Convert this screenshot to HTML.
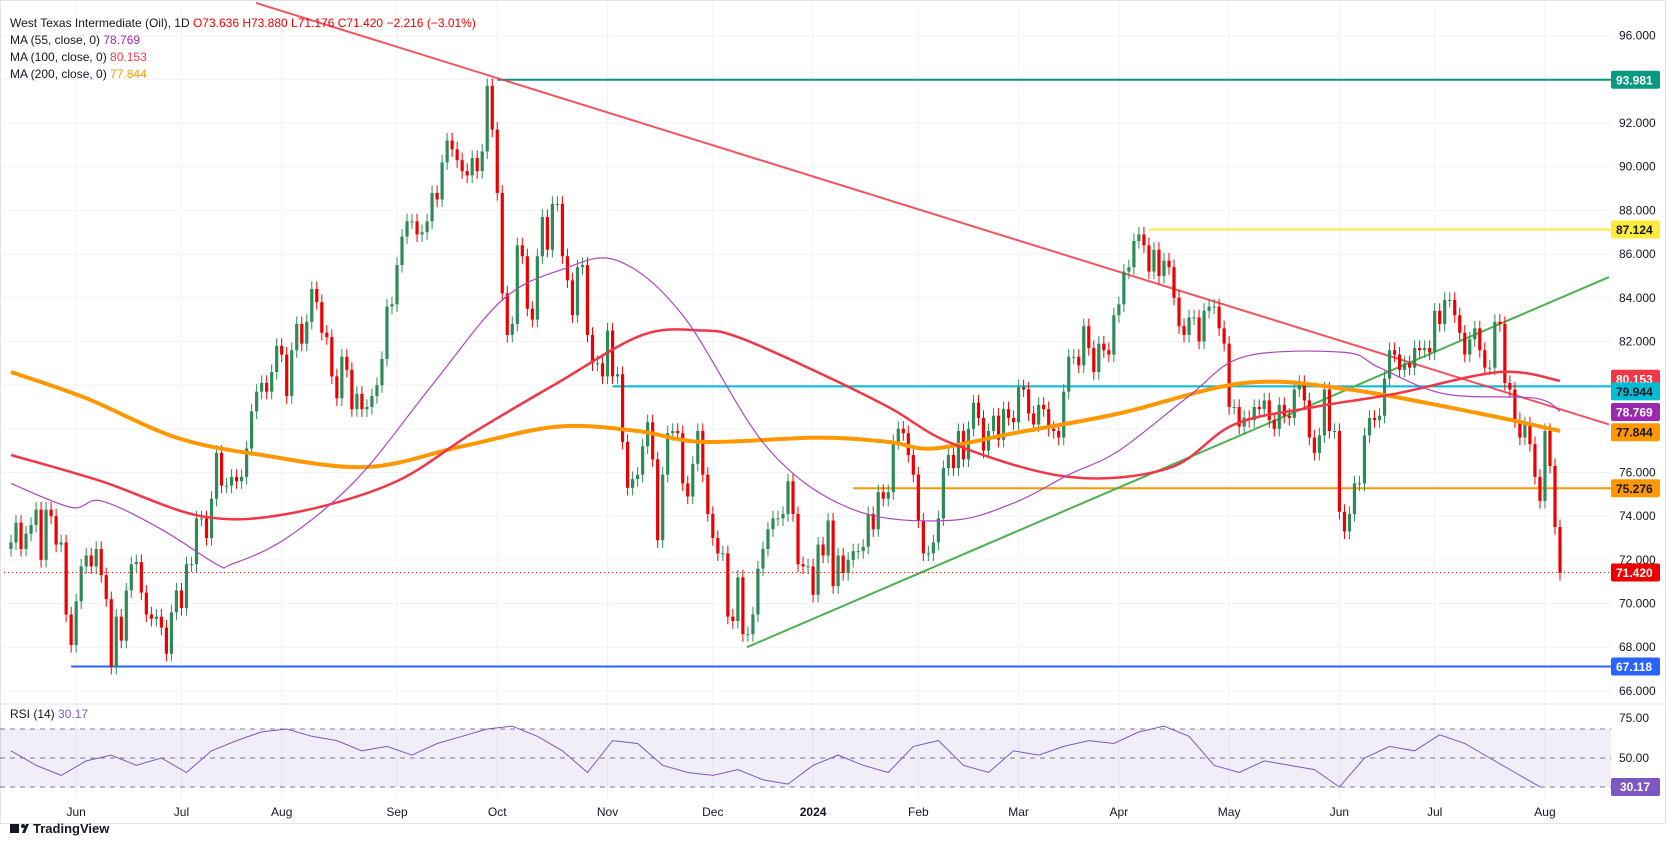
<!DOCTYPE html>
<html><head><meta charset="utf-8"><style>
html,body{margin:0;padding:0;background:#fff;}
svg{display:block;font-family:"Liberation Sans",sans-serif;}
</style></head><body>
<svg id="c" width="1675" height="848" viewBox="0 0 1675 848"></svg>
<script>
const closes=[72.8,73.7,72.5,73.2,73.6,74.3,72.0,74.3,74.0,72.7,72.8,69.5,68.1,
70.1,71.7,72.2,71.7,72.5,71.3,70.2,67.1,69.4,68.3,70.6,71.8,71.9,70.5,69.5,69.3,69.4,68.9,67.7,69.6,70.6,
69.8,71.8,71.8,73.9,73.9,73.0,74.8,76.9,75.4,75.4,75.8,75.6,75.8,77.1,78.8,79.7,80.1,79.7,80.6,81.8,
81.4,79.5,81.6,82.8,81.9,82.9,84.4,83.8,82.4,82.2,80.4,79.4,81.3,80.7,78.9,79.6,78.9,79.0,79.5,80.0,81.2,83.6,83.7,
85.5,86.8,87.5,87.5,86.9,87.0,87.5,88.8,88.5,90.2,91.2,90.8,90.3,89.8,89.6,90.4,89.8,90.7,93.7,91.7,
88.8,84.2,82.3,82.8,86.4,85.9,83.5,83.0,85.9,87.7,86.2,88.3,88.3,85.9,84.8,83.2,85.4,85.5,82.3,81.0,81.0,80.4,
82.5,80.4,80.5,77.4,75.3,75.7,75.9,77.2,78.3,76.6,72.9,75.9,77.8,77.9,77.8,75.5,74.9,76.4,77.9,75.9,74.1,
73.0,72.3,72.3,69.4,69.2,71.2,68.6,68.6,69.5,71.6,72.5,73.4,73.9,73.9,74.1,75.6,74.1,71.8,71.7,71.7,
70.4,72.7,72.2,73.8,70.8,72.2,71.4,72.0,72.4,72.4,72.6,74.1,73.4,75.1,74.8,75.1,77.4,78.0,77.8,76.8,75.9,
73.8,72.3,72.3,72.8,73.9,76.2,76.8,76.2,77.9,76.6,78.0,79.2,78.5,77.0,77.9,78.6,77.5,78.9,78.5,78.3,
79.9,79.8,78.7,78.2,79.1,78.9,78.0,77.9,77.6,79.7,81.3,81.3,80.9,82.7,81.7,80.6,81.9,81.6,81.4,83.2,
83.7,85.2,85.4,86.6,86.9,86.4,85.2,86.2,85.0,85.7,85.4,84.0,82.7,82.3,83.1,83.1,82.0,83.4,83.6,83.6,82.6,81.9,
79.0,79.0,78.1,78.5,78.4,79.0,78.9,79.3,78.4,78.0,79.1,78.6,78.5,79.8,80.1,79.3,77.6,76.9,77.7,79.8,77.9,77.9,
74.2,73.3,74.1,75.5,75.5,77.7,78.5,78.4,78.6,80.3,81.6,81.4,80.7,81.0,80.8,81.7,81.6,81.7,81.5,
83.4,82.8,83.9,83.9,83.2,82.4,81.4,82.1,82.6,81.6,80.8,80.8,82.9,82.8,80.1,79.8,78.4,77.6,78.2,77.3,75.8,74.7,77.9,
76.3,73.5,71.4];
const firstOpen=72.5;
// moving averages: [candle index, value]
const ma200=[[0,80.6],[15,79.4],[33,77.6],[50,76.8],[71,76.25],[90,77.2],[109,78.1],[125,77.9],[138,77.4],[161,77.6],[175,77.4],[184,77.1],[200,77.8],[221,78.7],[246,80.1],[267,79.8],[293,78.7],[309,77.9]];
const ma100=[[0,76.8],[18,75.6],[38,74.0],[55,74.1],[76,75.5],[92,77.8],[109,80.1],[126,82.3],[138,82.5],[145,82.2],[159,80.8],[175,79.0],[188,77.3],[211,75.8],[231,76.2],[244,78.2],[260,79.0],[276,79.6],[297,80.6],[309,80.2]];
const ma55=[[0,75.5],[12,74.4],[18,74.7],[30,73.4],[41,71.8],[44,71.8],[55,73.0],[69,75.7],[84,80.0],[98,83.9],[110,85.3],[121,85.7],[134,83.2],[151,77.1],[168,74.3],[187,73.8],[200,74.6],[211,75.9],[221,77.0],[235,79.5],[246,81.3],[266,81.5],[273,80.8],[286,79.6],[304,79.4],[309,78.8]];
const rsiVals=[55,45,38,48,52,45,50,40,55,62,68,70,65,62,55,58,52,60,65,70,72,65,55,40,62,60,45,40,38,42,35,32,45,52,45,40,58,62,45,40,55,52,58,62,60,68,72,65,45,40,48,45,42,30,50,58,55,66,60,50,40,30.17];
const priceTicks=[96,94,92,90,88,86,84,82,80,78,76,74,72,70,68,66];
const monthLabels=["Jun","Jul","Aug","Sep","Oct","Nov","Dec","2024","Feb","Mar","Apr","May","Jun","Jul","Aug"];
const monthIdx=[13,34,54,77,97,119,140,160,181,201,221,243,265,284,306];
const hLines=[{v:93.981,from:97,c:"#089981",n:"resistance-93-981"},{v:87.124,from:227,c:"#ffeb3b",n:"resistance-87-124"},{v:79.944,from:120,c:"#00bcd4",n:"level-79-944"},{v:75.276,from:168,c:"#ff9800",n:"level-75-276"},{v:67.118,from:12,c:"#2962ff",n:"support-67-118"}];

const S=document.getElementById('c'),NS='http://www.w3.org/2000/svg';
function el(t,a,p){const e=document.createElementNS(NS,t);for(const k in a)e.setAttribute(k,a[k]);(p||S).appendChild(e);return e;}
const X0=11,STEP=(1560-11)/(closes.length-1);
const xi=i=>X0+i*STEP;
const yp=p=>35.7+(96-p)*21.84;
const yr=v=>758-(v-50)*1.45;
const PR=1611;

monthIdx.forEach(i=>{const g=el('line',{x1:xi(i),x2:xi(i),y1:0,y2:800,stroke:'#f0f3fa'});
});
priceTicks.forEach(p=>{const g=el('line',{x1:0,x2:PR,y1:yp(p),y2:yp(p),stroke:'#f0f3fa'});

const t=el('text',{x:1619,y:yp(p)+4,'font-size':12,fill:'#131722'});t.textContent=p.toFixed(3);
});

const cp=el('clipPath',{id:'cp'});el('rect',{x:0,y:0,width:PR,height:704},cp);
const G=el('g',{'clip-path':'url(#cp)'});
hLines.forEach(h=>{const l=el('line',{x1:xi(h.from),x2:PR,y1:yp(h.v),y2:yp(h.v),stroke:h.c,'stroke-width':2},G);
});
const tr=el('line',{x1:256,y1:yp(97.5),x2:1609,y2:yp(78.2),stroke:'#f23645','stroke-width':2,'stroke-opacity':0.85},G);

const tg=el('line',{x1:747,y1:yp(68.0),x2:1609,y2:yp(84.95),stroke:'#4caf50','stroke-width':2},G);


let prev=firstOpen;
closes.forEach((c,i)=>{const o=prev;prev=c;const up=c>=o;const col=up?'#2e8b57':'#ee0000';
const hi=Math.max(o,c)+0.35,lo=Math.min(o,c)-0.35;const x=xi(i);
const g=el('g',{},G);
el('line',{x1:x,x2:x,y1:yp(hi),y2:yp(lo),stroke:col,'stroke-width':1},g);
const t=Math.min(yp(o),yp(c)),h=Math.max(1,Math.abs(yp(o)-yp(c)));
el('rect',{x:x-1.6,y:t,width:3.2,height:h,fill:col},g);});

function smooth(pts){let d='M'+pts[0][0].toFixed(1)+' '+pts[0][1].toFixed(1);
for(let k=0;k<pts.length-1;k++){const p0=pts[Math.max(0,k-1)],p1=pts[k],p2=pts[k+1],p3=pts[Math.min(pts.length-1,k+2)];
const c1=[p1[0]+(p2[0]-p0[0])/6,p1[1]+(p2[1]-p0[1])/6],c2=[p2[0]-(p3[0]-p1[0])/6,p2[1]-(p3[1]-p1[1])/6];
d+=' C'+c1[0].toFixed(1)+' '+c1[1].toFixed(1)+' '+c2[0].toFixed(1)+' '+c2[1].toFixed(1)+' '+p2[0].toFixed(1)+' '+p2[1].toFixed(1);}
return d;}
function maPath(arr,col,w,name){const d=smooth(arr.map(p=>[xi(p[0]),yp(p[1])]));
const e=el('path',{d:d,fill:'none',stroke:col,'stroke-width':w,'stroke-linejoin':'round'},G);
}
maPath(ma200,'#ff9800',4,'ma-200-line');
maPath(ma100,'#f23645',2.5,'ma-100-line');
maPath(ma55,'#ab47bc',1.2,'ma-55-line');
const last=el('line',{x1:0,x2:PR,y1:yp(71.42),y2:yp(71.42),stroke:'#ee0000','stroke-dasharray':'1 3'},G);


[[93.981,'#089981','#fff'],[87.124,'#ffeb3b','#131722'],[80.153,'#f23645','#fff'],[79.944,'#00bcd4','#131722'],[78.769,'#9c27b0','#fff'],[77.844,'#ff9800','#131722'],[75.276,'#ff9800','#131722'],[71.42,'#ee0000','#fff'],[67.118,'#2962ff','#fff']].forEach(a=>{
const g=el('g',{});
let y=yp(a[0]);if(a[0]===80.153)y-=3;if(a[0]===79.944)y+=5;
el('rect',{x:1611,y:y-9,width:49,height:18,fill:a[1],rx:2},g);
const t=el('text',{x:1616,y:y+4.5,'font-size':12,'font-weight':'bold',fill:a[2]},g);t.textContent=a[0].toFixed(3);});

el('line',{x1:0,x2:1665,y1:704,y2:704,stroke:'#e0e3eb'});
el('rect',{x:0.5,y:0.5,width:1665,height:823,fill:'none',stroke:'#e0e3eb'});
const rb=el('rect',{x:0,y:yr(70),width:PR,height:yr(30)-yr(70),fill:'#7e57c2','fill-opacity':0.1});

[70,50,30].forEach(v=>{el('line',{x1:0,x2:PR,y1:yr(v),y2:yr(v),stroke:'#787b86','stroke-dasharray':'5 5'});});
const rd=rsiVals.map((v,k)=>(k?'L':'M')+xi(Math.min(k*5,closes.length-1)).toFixed(1)+' '+yr(v).toFixed(1)).join(' ');
const rl=el('path',{d:rd,fill:'none',stroke:'#7e57c2','stroke-width':1});

[[75,722],[50,762]].forEach(a=>{const t=el('text',{x:1619,y:a[1],'font-size':12,fill:'#131722'});t.textContent=a[0].toFixed(2);
});
el('rect',{x:1611,y:778,width:49,height:18,fill:'#7e57c2',rx:2});
const rt=el('text',{x:1620,y:791,'font-size':12,'font-weight':'bold',fill:'#fff'});rt.textContent='30.17';
const rlg=el('text',{x:10,y:718,'font-size':12,fill:'#131722'});rlg.innerHTML='RSI (14) <tspan fill="#7e57c2">30.17</tspan>';


monthLabels.forEach((m,k)=>{const t=el('text',{x:xi(monthIdx[k]),y:816,'font-size':12,'text-anchor':'middle',fill:'#131722','font-weight':m==='2024'?'bold':'normal'});t.textContent=m;
});

const L=[['West Texas Intermediate (Oil), 1D ','O73.636 H73.880 L71.176 C71.420 −2.216 (−3.01%)','#ee0000'],['MA (55, close, 0) ','78.769','#9c27b0'],['MA (100, close, 0) ','80.153','#f23645'],['MA (200, close, 0) ','77.844','#ff9800']];
L.forEach((a,k)=>{const t=el('text',{x:10,y:27+k*17,'font-size':12,fill:'#131722'});t.innerHTML=a[0]+'<tspan fill="'+a[2]+'">'+a[1]+'</tspan>';
});
const lg=el('g',{});
el('rect',{x:10,y:824,width:9,height:9,fill:'#131722'},lg);el('circle',{cx:23,cy:826,r:2,fill:'#131722'},lg);
el('path',{d:'M22 833 L26 824 L29 824 L25 833 Z',fill:'#131722'},lg);
const lt=el('text',{x:33,y:833,'font-size':13,'font-weight':'bold',fill:'#131722'},lg);lt.textContent='TradingView';
</script>
</body></html>
